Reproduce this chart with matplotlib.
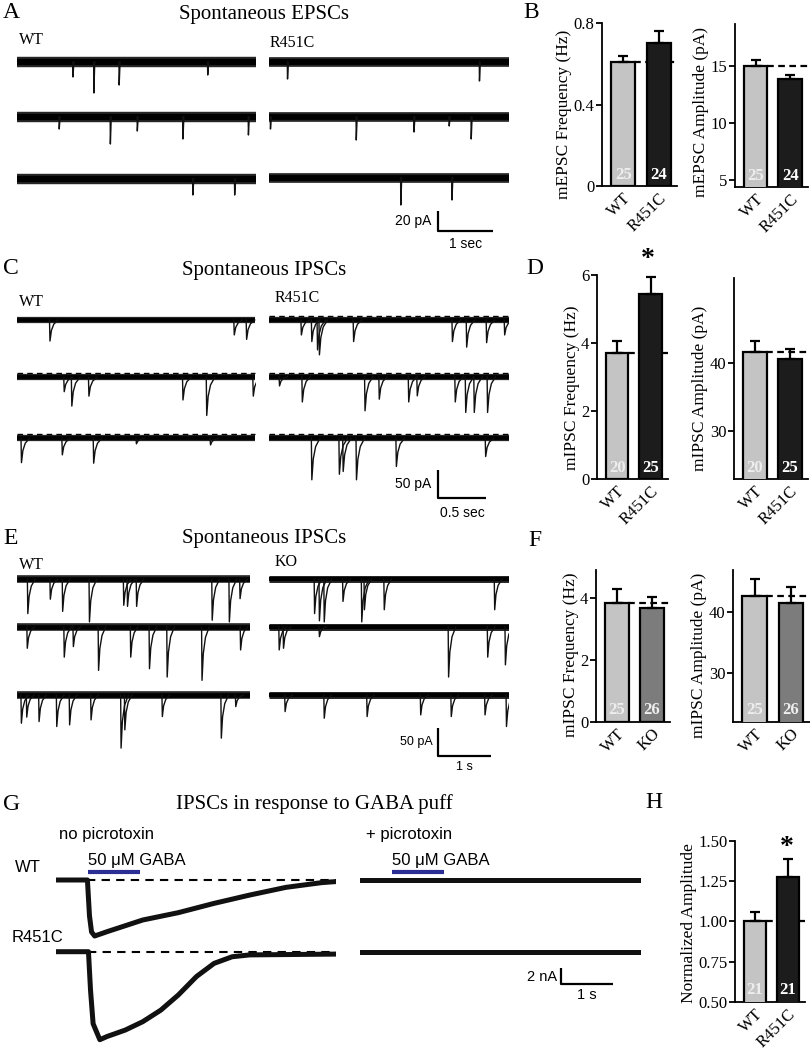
import matplotlib
matplotlib.use("Agg")
import matplotlib.pyplot as plt

# ---------------- data ----------------
# A: spontaneous EPSCs, per sweep: event times (s) and amplitudes (pA)
a_wt_t = [[1.01, 1.39, 1.85, 3.46], [0.76, 1.69, 2.18, 3.01, 4.20], [3.19, 3.95]]
a_wt_amp = [[15, 31, 23, 13], [12, 27, 14, 22, 18], [16, 16]]
a_mut_t = [[0.34, 3.83], [0.03, 1.59, 2.64, 3.28, 3.68], [2.40, 3.33]]
a_mut_amp = [[17, 19], [12, 23, 15, 9, 22], [27, 22]]

# C: spontaneous IPSCs (WT vs R451C)
c_wt_t = [[0.34, 2.28, 2.41], [0.49, 0.57, 0.75, 1.74, 1.99, 2.48],
          [0.04, 0.47, 0.80, 1.25, 2.03]]
c_wt_amp = [[38, 27, 35], [26, 52, 34, 41, 69, 34], [44, 30, 45, 10, 12]]
c_mut_t = [[0.34, 0.45, 0.51, 0.53, 0.89, 1.93, 2.08, 2.29, 2.48],
           [0.11, 0.35, 1.01, 1.16, 1.47, 1.56, 1.96, 2.07, 2.16, 2.30],
           [0.45, 0.74, 0.78, 0.92, 1.34, 2.28]]
c_mut_amp = [[27, 39, 54, 63, 39, 39, 49, 41, 27],
             [17, 46, 62, 41, 46, 35, 46, 65, 65, 65],
             [75, 65, 60, 75, 51, 33]]

# E: spontaneous IPSCs (WT vs KO)
e_wt_t = [[0.19, 0.61, 0.84, 1.34, 1.98, 2.05, 2.22, 3.63, 3.95, 4.15],
          [0.18, 0.87, 1.04, 1.51, 2.11, 2.46, 2.79, 3.44, 4.16],
          [0.07, 0.17, 0.40, 0.73, 0.97, 1.37, 1.93, 2.00, 2.70, 3.80, 4.07]]
e_wt_amp = [[62, 36, 58, 77, 47, 49, 49, 74, 77, 35],
            [39, 55, 36, 79, 55, 76, 91, 97, 42],
            [51, 40, 48, 57, 54, 45, 96, 63, 39, 78, 21]]
e_ko_t = [[0.85, 0.94, 1.03, 1.38, 1.73, 1.78, 2.15, 4.21],
          [0.19, 0.27, 0.94, 3.35, 4.08, 4.41],
          [0.30, 1.03, 1.83, 2.83, 3.40, 4.03, 4.43]]
e_ko_amp = [[62, 75, 77, 40, 77, 55, 55, 55],
            [42, 39, 18, 91, 55, 69],
            [30, 42, 39, 36, 39, 36, 57]]

# G: GABA puff responses, time (s) vs current (nA)
g_t_wt = [0, 0.60, 0.64, 0.68, 0.74, 0.98, 1.67, 2.36, 3.05, 3.74, 4.44, 5.13, 5.40]
g_i_wt = [0, 0, -4.5, -6.5, -7.0, -6.46, -5.0, -4.08, -2.92, -1.88, -0.92, -0.33, -0.2]
g_t_mut = [0, 0.62, 0.66, 0.71, 0.84, 0.98, 1.33, 1.67, 2.02, 2.36, 2.71, 3.05, 3.40, 3.74, 5.40]
g_i_mut = [0, 0, -4.8, -9.0, -11.0, -10.6, -9.8, -8.75, -7.3, -5.4, -3.1, -1.46, -0.63, -0.4, -0.3]
g_ptx_t = [0, 5.43]
g_ptx_i = [0, 0]
gaba_on, gaba_off = 0.62, 1.62

# bar summaries
groups_r = ["WT", "R451C"]
groups_ko = ["WT", "KO"]
b_freq, b_freq_err, b_n = [0.61, 0.705], [0.03, 0.055], [25, 24]
b_amp, b_amp_err = [15.05, 13.9], [0.45, 0.3]
d_freq, d_freq_err, d_n = [3.7, 5.45], [0.35, 0.5], [20, 25]
d_amp, d_amp_err = [41.6, 40.5], [1.5, 1.5]
f_freq, f_freq_err, f_n = [3.84, 3.68], [0.45, 0.37], [25, 26]
f_amp, f_amp_err = [42.6, 41.5], [2.7, 2.5]
h_norm, h_err, h_n = [1.0, 1.275], [0.06, 0.115], [21, 21]

# ---------------- figure ----------------
W, H = 810, 1050
SERIF = "Liberation Serif"
SANS = "Liberation Sans"
plt.rcParams["font.family"] = SERIF

fig = plt.figure(figsize=(8.1, 10.5), dpi=100)

C_WT, C_MUT, C_KO = "#c4c4c4", "#1c1c1c", "#7c7c7c"


def px_axes(x, y, w, h):
    ax = fig.add_axes([x / W, 1 - (y + h) / H, w / W, h / H])
    ax.patch.set_visible(False)
    return ax


def ftext(x, y, s, **kw):
    fig.text(x / W, 1 - y / H, s, **kw)


class TraceCol:
    """axes in time / current units placed on a pixel box"""
    def __init__(self, x0, x1, ytop, ybot, px_s, px_unit):
        self.x0, self.ytop, self.px_s, self.px_unit = x0, ytop, px_s, px_unit
        self.ax = px_axes(x0, ytop, x1 - x0, ybot - ytop)
        self.dur = (x1 - x0) / px_s
        self.ax.set_xlim(0, self.dur)
        self.ax.set_ylim(-(ybot - ytop) / px_unit, 0)
        self.ax.axis("off")

    def t(self, px):
        return (px - self.x0) / self.px_s

    def y(self, py):
        return -(py - self.ytop) / self.px_unit


def draw_sweep(col, ypx, times, amps, kt, kf, band, dashed=False):
    ax = col.ax
    y0 = col.y(ypx)
    ax.plot([0, col.dur], [y0, y0], color="#262626", lw=band, solid_capstyle="butt")
    ax.plot([0, col.dur], [y0, y0], color="black", lw=band * 0.6, solid_capstyle="butt")
    for t, a in zip(times, amps):
        ax.plot([t + k for k in kt], [y0 + f * a for f in kf], color="#111111", lw=1.0)
    if dashed:
        ax.plot([0, col.dur], [y0 + 7, y0 + 7], color="k", lw=1.0, ls=(0, (4, 3)), zorder=4)


def scale_bar(col, xpx, ypx, v, t, vtxt, ttxt, vpos, tpos, fs):
    ax = col.ax
    tx, yb = col.t(xpx), col.y(ypx)
    ax.plot([tx, tx, tx + t], [yb + v, yb, yb], color="k", lw=1.6, solid_capstyle="butt")
    ftext(vpos[0], vpos[1], vtxt, family=SANS, fontsize=fs, ha="right", va="center")
    ftext(tpos[0], tpos[1], ttxt, family=SANS, fontsize=fs, ha="center", va="center")


EPSC_KT, EPSC_KF = [0, 0.004, 0.02], [0, -1, 0]
IPSC_KT, IPSC_KF = [0, 0.005, 0.02, 0.045, 0.09], [0, -1, -0.5, -0.2, 0]
IPSC_KT_E = [k * 1.6 for k in IPSC_KT]

# ---- A ----
ftext(3, 13, "A", fontsize=17, va="center")
ftext(264, 15, "Spontaneous EPSCs", fontsize=15, ha="center", va="center")
ftext(19, 40, "WT", fontsize=11.5, va="center")
ftext(270, 43, "R451C", fontsize=11.5, va="center")
colA1 = TraceCol(17.2, 255.5, 30, 260, 55, 1.0)
colA2 = TraceCol(268.6, 509, 30, 260, 55, 1.0)
for ypx, tt, aa in zip([62, 117, 179], a_wt_t, a_wt_amp):
    draw_sweep(colA1, ypx, tt, aa, EPSC_KT, EPSC_KF, 7.5)
for ypx, tt, aa in zip([62, 117, 178], a_mut_t, a_mut_amp):
    draw_sweep(colA2, ypx, tt, aa, EPSC_KT, EPSC_KF, 7.0)
scale_bar(colA2, 438.3, 230.5, 20, 1, "20 pA", "1 sec", (431, 221), (466, 244), 10)

# ---- C ----
ftext(3, 269, "C", fontsize=17, va="center")
ftext(264, 270, "Spontaneous IPSCs", fontsize=15, ha="center", va="center")
ftext(19, 302, "WT", fontsize=11.5, va="center")
ftext(275, 298, "R451C", fontsize=11.5, va="center")
colC1 = TraceCol(17.2, 255.5, 290, 520, 95, 0.553)
colC2 = TraceCol(268.6, 509, 290, 520, 95, 0.553)
for ypx, tt, aa in zip([320, 377.3, 438.3], c_wt_t, c_wt_amp):
    draw_sweep(colC1, ypx, tt, aa, IPSC_KT, IPSC_KF, 4.5, dashed=ypx > 330)
for ypx, tt, aa in zip([320, 376.5, 438.3], c_mut_t, c_mut_amp):
    draw_sweep(colC2, ypx, tt, aa, IPSC_KT, IPSC_KF, 4.5, dashed=True)
scale_bar(colC2, 438, 497.7, 50, 0.5, "50 pA", "0.5 sec", (431, 484), (462, 513), 10)

# ---- E ----
ftext(3, 538, "E", fontsize=17, va="center")
ftext(264, 538, "Spontaneous IPSCs", fontsize=15, ha="center", va="center")
ftext(19, 565, "WT", fontsize=11.5, va="center")
ftext(275, 562, "KO", fontsize=11.5, va="center")
colE1 = TraceCol(17.2, 250, 550, 780, 53.6, 0.553)
colE2 = TraceCol(268.6, 509, 550, 780, 53.6, 0.553)
for ypx, tt, aa in zip([579.3, 626.7, 695], e_wt_t, e_wt_amp):
    draw_sweep(colE1, ypx, tt, aa, IPSC_KT_E, IPSC_KF, 5.5)
for ypx, tt, aa in zip([579.3, 626.7, 695], e_ko_t, e_ko_amp):
    draw_sweep(colE2, ypx, tt, aa, IPSC_KT_E, IPSC_KF, 5.0)
scale_bar(colE2, 437.5, 756, 50, 1, "50 pA", "1 s", (433, 742), (464, 767), 9)

# ---- G ----
ftext(3, 805, "G", fontsize=17, va="center")
ftext(314, 804, "IPSCs in response to GABA puff", fontsize=15, ha="center", va="center")
ftext(59, 835, "no picrotoxin", family=SANS, fontsize=12, va="center")
ftext(366, 835, "+ picrotoxin", family=SANS, fontsize=12, va="center")
ftext(15, 868, "WT", family=SANS, fontsize=12, va="center")
ftext(12, 937, "R451C", family=SANS, fontsize=12, va="center")
colG1 = TraceCol(56.4, 335.7, 850, 1050, 51.7, 8.0)
colG2 = TraceCol(360, 641, 850, 1050, 51.7, 8.0)
for col, ypx, tt, ii in [(colG1, 880, g_t_wt, g_i_wt), (colG1, 951.7, g_t_mut, g_i_mut),
                         (colG2, 880, g_ptx_t, g_ptx_i), (colG2, 951.7, g_ptx_t, g_ptx_i)]:
    y0 = col.y(ypx)
    col.ax.plot(tt, [y0 + v for v in ii], color="#111111", lw=3.6,
                solid_joinstyle="round", zorder=3)
    if col is colG1:
        col.ax.plot([tt[1], col.dur], [y0, y0], color="k", lw=1.5, ls=(0, (4, 3)), zorder=2)
for col in (colG1, colG2):
    yb = col.y(871.7)
    col.ax.plot([gaba_on, gaba_off], [yb, yb], color="#2b2f95", lw=3, solid_capstyle="butt")
    col.ax.text(gaba_on, col.y(860), "50 \u03bcM GABA", family=SANS, fontsize=12,
                ha="left", va="center")
scale_bar(colG2, 561, 984, 2, 1, "2 nA", "1 s", (557, 977), (587, 995), 10.5)


# ---------------- bar panels ----------------
def bar_panel(box, vals, errs, ns, names, colors, ncolors, ylim, ticks, fmt,
              ylabel, lab_y):
    left, right, top, bottom = box
    ax = px_axes(left, top, right - left, bottom - top)
    x = [0, 1]
    ax.set_xlim(-0.6, 1.52)
    ax.set_ylim(*ylim)
    ax.plot([0, 1.52], [vals[0], vals[0]], color="k", lw=1.6, ls=(0, (3, 2)), zorder=1)
    ax.bar(x, vals, width=0.68, color=colors, edgecolor="k", linewidth=1.6, zorder=3)
    ax.errorbar(x, vals, yerr=[[0, 0], errs], fmt="none", ecolor="k", elinewidth=1.6,
                capsize=3.5, capthick=1.6, zorder=4)
    for s in ("top", "right"):
        ax.spines[s].set_visible(False)
    for s in ("left", "bottom"):
        ax.spines[s].set_linewidth(1.3)
    ax.set_yticks(ticks)
    ax.set_yticklabels([fmt.format(t) for t in ticks])
    ax.tick_params(axis="y", length=4, width=1.3, labelsize=12, pad=1.5)
    ax.set_xticks(x)
    ax.set_xticklabels(names, rotation=45, ha="right", rotation_mode="anchor", fontsize=12)
    ax.tick_params(axis="x", length=0, pad=3)
    ax.set_ylabel(ylabel, fontsize=12.5, labelpad=1)
    ax.yaxis.label.set_y((bottom - lab_y) / (bottom - top))
    for xi, n, c in zip(x, ns, ncolors):
        ax.annotate(str(n), (xi, 0), xycoords=("data", "axes fraction"), xytext=(0, 2.5),
                    textcoords="offset points", ha="center", va="bottom", fontsize=12,
                    fontweight="bold", color=c)
    return ax


NUM_R = ["#eeeeee", "white"]
NUM_K = ["#eeeeee", "#eeeeee"]

ftext(523, 13, "B", fontsize=17, va="center")
bar_panel((602, 677, 23.3, 186), b_freq, b_freq_err, b_n, groups_r, [C_WT, C_MUT], NUM_R,
          (0, 0.8), [0, 0.4, 0.8], "{:g}", "mEPSC Frequency (Hz)", 114)
bar_panel((735, 808, 24, 187), b_amp, b_amp_err, b_n, groups_r, [C_WT, C_MUT], NUM_R,
          (4.4, 18.7), [5, 10, 15], "{:g}", "mEPSC Amplitude (pA)", 112)

ftext(526, 268, "D", fontsize=17, va="center")
bar_panel((597, 668, 275, 479.3), d_freq, d_freq_err, d_n, groups_r, [C_WT, C_MUT], NUM_R,
          (0, 6), [0, 2, 4, 6], "{:g}", "mIPSC Frequency (Hz)", 388)
bar_panel((734, 808, 278, 479.3), d_amp, d_amp_err, d_n, groups_r, [C_WT, C_MUT], NUM_R,
          (22.9, 52.4), [30, 40], "{:g}", "mIPSC Amplitude (pA)", 388)
ftext(648, 260, "*", fontsize=20, fontweight="bold", ha="center", va="center")

ftext(528, 541, "F", fontsize=17, va="center")
bar_panel((596, 670, 570, 721.7), f_freq, f_freq_err, f_n, groups_ko, [C_WT, C_KO], NUM_K,
          (0, 4.92), [0, 2, 4], "{:g}", "mIPSC Frequency (Hz)", 655)
bar_panel((733, 810, 570, 721.7), f_amp, f_amp_err, f_n, groups_ko, [C_WT, C_KO], NUM_K,
          (22.1, 46.8), [30, 40], "{:g}", "mIPSC Amplitude (pA)", 655)

ftext(645, 803, "H", fontsize=17, va="center")
bar_panel((735, 805, 841, 1001.7), h_norm, h_err, h_n, groups_r, [C_WT, C_MUT], NUM_R,
          (0.5, 1.5), [0.5, 0.75, 1.0, 1.25, 1.5], "{:.2f}", "Normalized Amplitude", 923)
ftext(787, 847, "*", fontsize=20, fontweight="bold", ha="center", va="center")

fig.savefig("out.png", dpi=100)
